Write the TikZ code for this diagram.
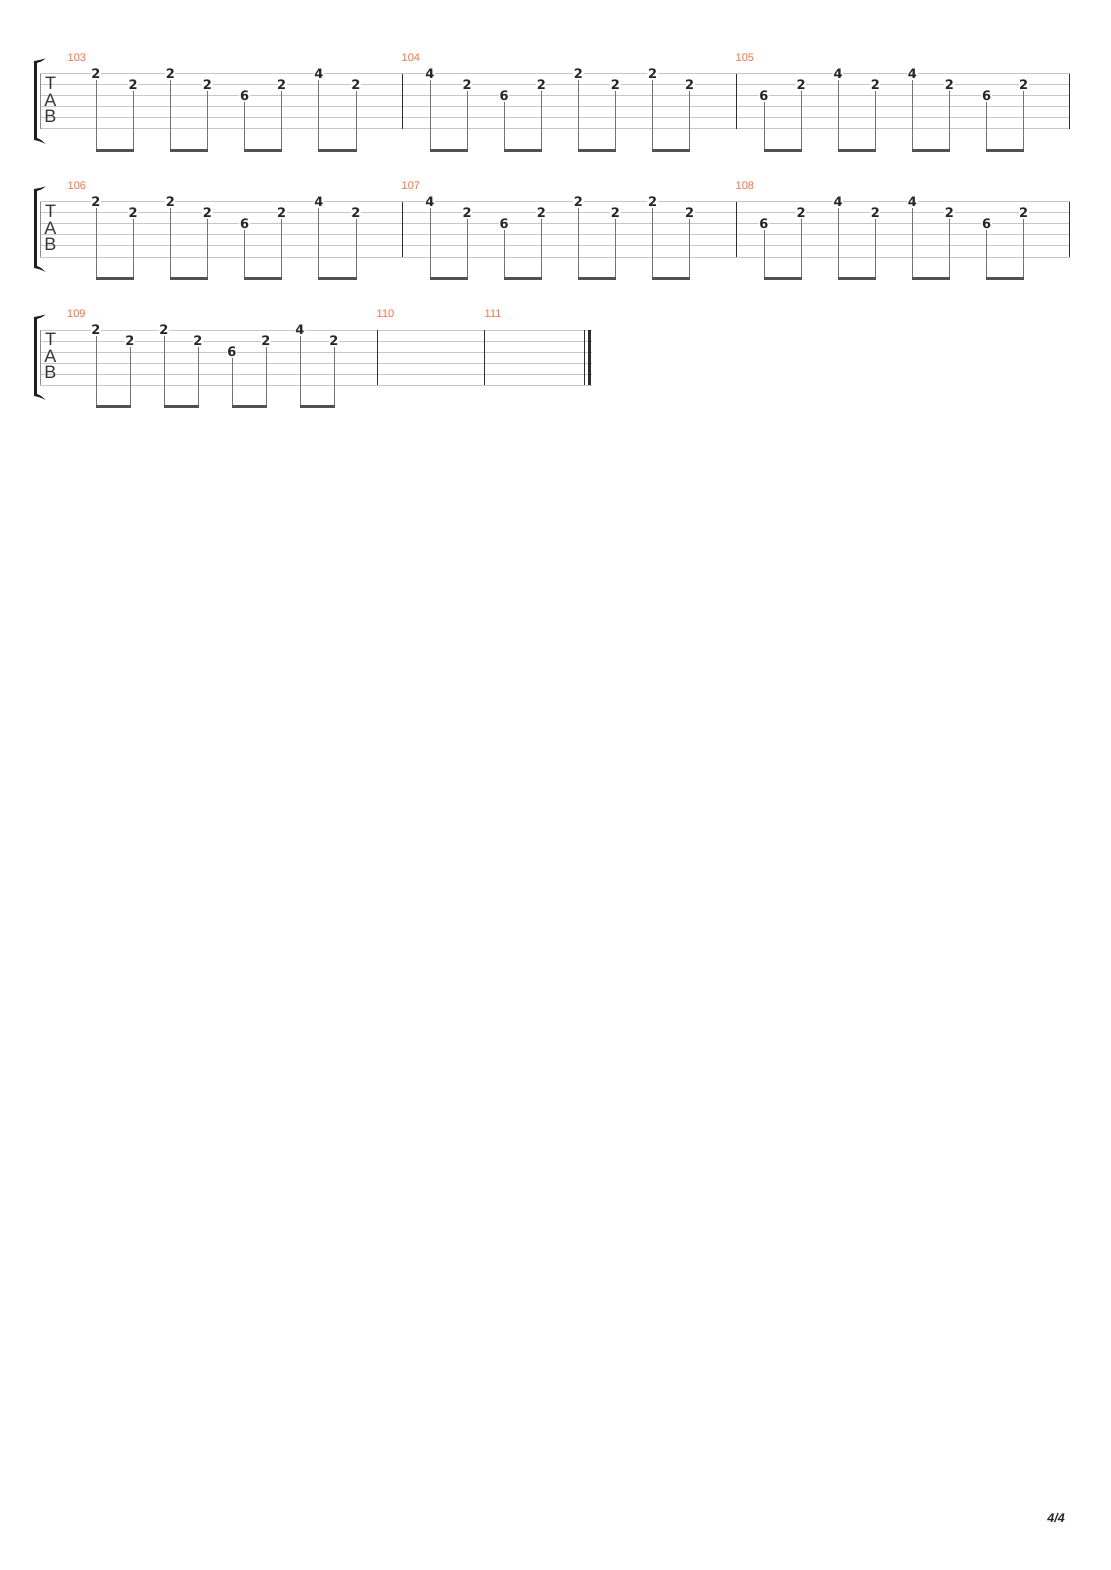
\documentclass[tikz,border=0pt]{standalone}
\usepackage{fontspec}
\setmainfont{Liberation Sans}
\newfontfamily\fretfont{DejaVu Sans}
\newfontfamily\numfont{Liberation Sans}
\definecolor{mnumcol}{RGB}{250,112,64}
\tikzset{
  staffline/.style={draw=black!22, line width=1pt},
  staffedge/.style={draw=black!45, line width=1pt},
  barline/.style={draw=black!82, line width=1.1pt},
  fret/.style={font=\fretfont\bfseries\fontsize{13}{13}\selectfont, text=black!85, fill=white, inner sep=0.6pt},
  stemline/.style={draw=black!55, line width=1pt},
  beamline/.style={draw=black!68, line width=3pt},
  mnum/.style={font=\numfont\fontsize{11}{11}\selectfont, text=mnumcol, anchor=west, inner sep=0pt},
  tabletter/.style={font=\numfont\fontsize{18}{18}\selectfont, text=black!78, inner sep=0pt},
  bracketfill/.style={fill=black!88},
}
\newcommand\tabstaff[3]{% #1 y0, #2 right end, #3 prefix
  \foreach \k in {0,...,5} \draw[staffline] (40,{#1+11*\k}) -- (#2,{#1+11*\k});
  \draw[staffedge] (40,#1) -- (40,{#1+55});
  \fill[bracketfill] (34,{#1-13}) -- (34,{#1+66})
     .. controls (38,{#1+66.5}) and (42,{#1+68}) .. (45.5,{#1+70})
     .. controls (42.5,{#1+67}) and (39.5,{#1+64.5}) .. (36.8,{#1+64})
     -- (36.8,{#1-11})
     .. controls (39.5,{#1-11.5}) and (42.5,{#1-13}) .. (45.5,{#1-15.5})
     .. controls (42,{#1-14.5}) and (38,{#1-13.5}) .. (34,{#1-13}) -- cycle;
  \node[tabletter] (#3-T) at (50.5,{#1+9.5}) {T};
  \node[tabletter] (#3-A) at (50.5,{#1+26.5}) {A};
  \node[tabletter] (#3-B) at (50.5,{#1+42.5}) {B};
}
\newcommand\tabmeasure[3]{% #1 y0, #2 prefix, #3 list x/string/fret
  \foreach \xx/\ss/\ff [count=\ii] in {#3} {
    \node[fret] (#2-\ii) at (\xx,{#1+11*(\ss-1)}) {\ff};
    \coordinate (#2-b\ii) at (\xx,{#1+76.5});
    \draw[stemline] (#2-\ii.south) -- (#2-b\ii);
  }
  \foreach \aa/\bb in {1/2,3/4,5/6,7/8}
    \draw[beamline] ([xshift=-0.5pt]#2-b\aa) -- ([xshift=0.5pt]#2-b\bb);
}
\newcommand\barat[2]{\draw[barline] (#2,#1) -- (#2,{#1+55});}
\newcommand\fullsystem[4]{% #1 y0, #2 #3 #4 measure numbers
  \tabstaff{#1}{1069.5}{s#2}
  \barat{#1}{402.3}
  \barat{#1}{736.3}
  \barat{#1}{1069.5}
  \node[mnum] (m#2) at (67.5,{#1-16}) {#2};
  \node[mnum] (m#3) at (401.5,{#1-16}) {#3};
  \node[mnum] (m#4) at (735.5,{#1-16}) {#4};
  \tabmeasure{#1}{n#2}{96/1/2,133.2/2/2,170.3/1/2,207.5/2/2,244.6/3/6,281.7/2/2,318.8/1/4,356/2/2}
  \tabmeasure{#1}{n#3}{430/1/4,467.1/2/2,504.2/3/6,541.3/2/2,578.4/1/2,615.5/2/2,652.6/1/2,689.7/2/2}
  \tabmeasure{#1}{n#4}{764/3/6,801.1/2/2,838.2/1/4,875.3/2/2,912.4/1/4,949.5/2/2,986.6/3/6,1023.7/2/2}
}
\begin{document}
\begin{tikzpicture}[x=1pt,y=-1pt]
\useasboundingbox[fill=white] (0,0) rectangle (1110,1570);
\fullsystem{74}{103}{104}{105}
\fullsystem{202}{106}{107}{108}
% system 3
\tabstaff{330}{591.5}{s109}
\barat{330}{377.3}
\barat{330}{484.5}
\barat{330}{584.8}
\draw[draw=black!82, line width=3.5pt] (589.7,330) -- (589.7,385);
\node[mnum] (m109) at (67,314) {109};
\node[mnum] (m110) at (376.5,314) {110};
\node[mnum] (m111) at (484.5,314) {111};
\tabmeasure{330}{n109}{96/1/2,130/2/2,164/1/2,198/2/2,232/3/6,266/2/2,300/1/4,334/2/2}
% page number
\node[font=\numfont\bfseries\itshape\fontsize{12.5}{12.5}\selectfont, text=black!85, inner sep=0pt] (page) at (1056,1518) {4/4};
\end{tikzpicture}
\end{document}
